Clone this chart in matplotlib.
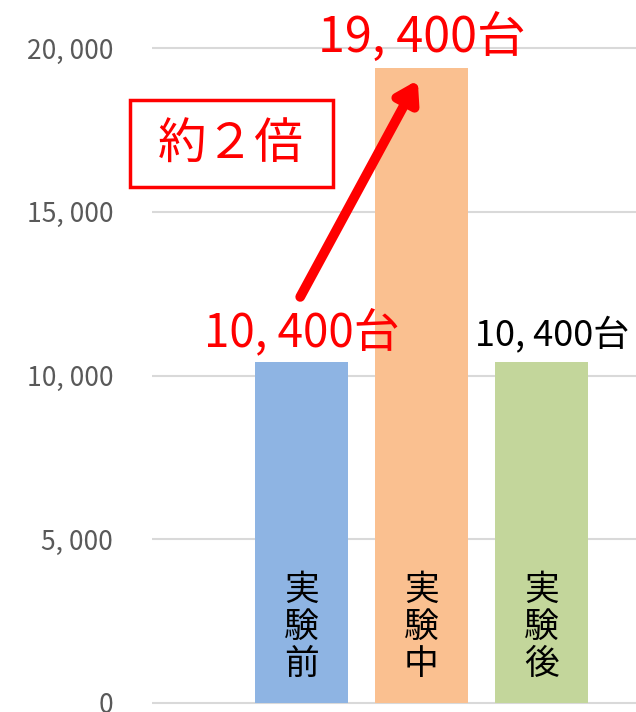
import matplotlib
matplotlib.use("Agg")
import matplotlib.pyplot as plt
from matplotlib.patches import Rectangle

plt.rcParams['font.family'] = ['Noto Sans CJK JP', 'DejaVu Sans']

# ---------- DATA ----------
categories = ["実験前", "実験中", "実験後"]
values = [10400, 19400, 10400]
colors = ["#8EB4E3", "#FAC090", "#C3D69B"]
label_colors = ["#FF0000", "#FF0000", "#000000"]
yticks = [0, 5000, 10000, 15000, 20000]
ratio_text = "約２倍"

W, H = 636, 712
fig = plt.figure(figsize=(W / 100, H / 100), dpi=100)
ax = fig.add_axes([152 / W, 0, (W - 152) / W, 1])

x = list(range(len(categories)))
ax.bar(x, values, width=0.775, color=colors, zorder=2)

ax.set_xlim(-1.246, 2.79)
ax.set_ylim(-275, 21466)
ax.set_yticks(yticks)
ax.set_yticklabels([f"{v:,}".replace(",", ", ") for v in yticks],
                   fontsize=19, color="#595959")
ax.tick_params(axis="y", length=0, pad=28)
ax.set_xticks([])
for s in ax.spines.values():
    s.set_visible(False)
ax.yaxis.grid(True, color="#D9D9D9", linewidth=1.5, zorder=0)

# value labels above bars
sizes = [33, 35, 26]
offsets = [150, 150, 250]
shifts = [0, 0, 0.09]
for xi, v, c, fs, off, dx in zip(x, values, label_colors, sizes, offsets, shifts):
    ax.text(xi + dx, v + off, f"{v:,}".replace(",", ", ") + "台", ha="center", va="bottom",
            fontsize=fs, color=c, zorder=4)

# vertical category labels inside bars
for xi, cat in zip(x, categories):
    ax.text(xi, 2300, "\n".join(cat), ha="center", va="center",
            fontsize=25, linespacing=1.07, color="black", zorder=3)

# arrow from first bar label to the middle bar
ax.annotate("", xy=(x[1] - 0.03, values[1] - 380), xytext=(x[0] - 0.01, values[0] + 2000),
            arrowprops=dict(arrowstyle="-|>,head_length=1.2,head_width=0.75",
                            color="#FF0000", lw=7, shrinkA=0, shrinkB=0), zorder=5)

# boxed ratio text
box = Rectangle((130 / W, 1 - 187 / H), 203 / W, 87 / H, transform=fig.transFigure,
                facecolor="white", edgecolor="#FF0000", linewidth=2.5, clip_on=False,
                zorder=6)
ax.add_patch(box)
ax.text(231 / W, 1 - 145 / H, ratio_text, transform=fig.transFigure, ha="center",
        va="center", fontsize=35, color="#FF0000", zorder=7)

fig.savefig("out.png", dpi=100)
